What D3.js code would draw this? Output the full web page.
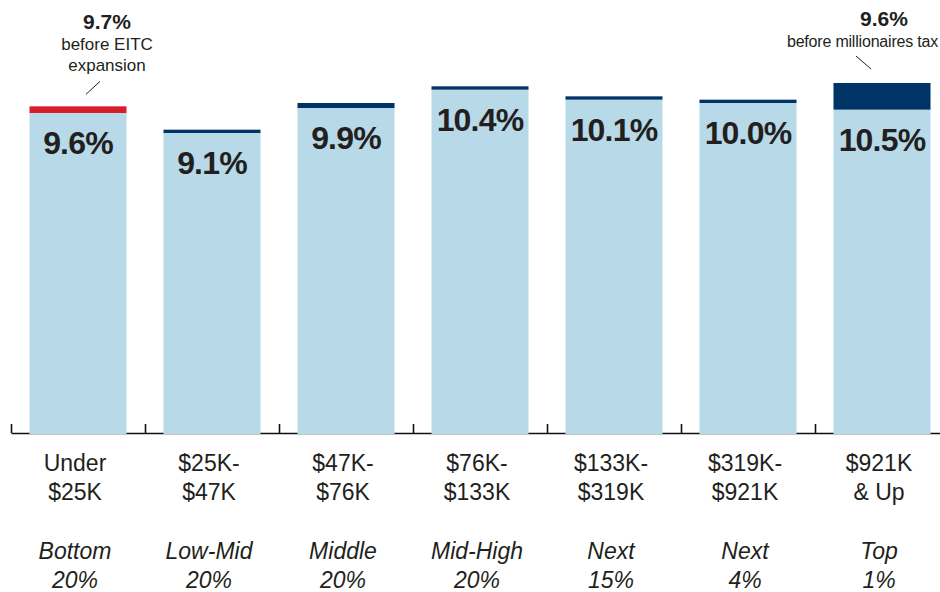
<!DOCTYPE html>
<html>

<head>
	<meta charset="utf-8">
	<script src="https://cdn.jsdelivr.net/npm/d3@7"></script>
	<style>
		body {
			margin: 0;
			background: #fff;
		}

		svg text {
			font-family: "Liberation Sans", Arial, sans-serif;
			fill: #231f20;
		}

		.axis path,
		.axis line {
			stroke: #111;
			stroke-width: 1.6px;
		}
	</style>
</head>

<body>
	<svg></svg>
	<script>
		// data
		var brackets = ["Under|$25K", "$25K-|$47K", "$47K-|$76K", "$76K-|$133K", "$133K-|$319K", "$319K-|$921K", "$921K|& Up"];
		var groups = ["Bottom|20%", "Low-Mid|20%", "Middle|20%", "Mid-High|20%", "Next|15%", "Next|4%", "Top|1%"];
		var rates = [9.6, 9.1, 9.9, 10.4, 10.1, 10.0, 10.5];
		var capBottom = [9.6, 9.0, 9.75, 10.3, 10.0, 9.9, 9.7];
		var capTop = [9.8, 9.1, 9.9, 10.4, 10.1, 10.0, 10.5];
		var capColor = ["#d71f2b", "#003466", "#003466", "#003466", "#003466", "#003466", "#003466"];
		var notes = [
			{ i: 0, value: "9.7%", lines: ["before EITC", "expansion"] },
			{ i: 6, value: "9.6%", lines: ["before millionaires tax"] }
		];

		var width = 940;
		var height = 592;
		var base = 433;

		var svg = d3.select('svg')
			.attr("width", width)
			.attr("height", height)

		var x = d3.scaleBand()
			.domain(d3.range(rates.length))
			.range([11, 949])
			.paddingInner(0.276)
			.paddingOuter(0.138)
		var xEdge = d3.scaleLinear()
			.domain([0, rates.length])
			.range([11, 949])
		var y = d3.scaleLinear()
			.domain([0, 10.5])
			.range([base, 83])

		svg.append("g")
			.attr("class", "axis")
			.attr("transform", "translate(0," + base + ")")
			.call(d3.axisBottom(xEdge)
				.tickValues(d3.range(rates.length))
				.tickSize(-9)
				.tickSizeOuter(0)
				.tickFormat(""));

		// light blue body
		svg.selectAll("rect.body")
			.data(rates)
			.enter()
			.append("rect")
			.attr("class", "body")
			.attr("x", (d, i) => x(i))
			.attr("width", x.bandwidth())
			.attr("y", (d, i) => y(capBottom[i]))
			.attr("height", (d, i) => base + 1 - y(capBottom[i]))
			.attr("fill", "#b7d9e8");

		// cap
		svg.selectAll("rect.cap")
			.data(rates)
			.enter()
			.append("rect")
			.attr("class", "cap")
			.attr("x", (d, i) => x(i))
			.attr("width", x.bandwidth())
			.attr("y", (d, i) => y(capTop[i]))
			.attr("height", (d, i) => y(capBottom[i]) - y(capTop[i]))
			.attr("fill", (d, i) => capColor[i]);

		svg.selectAll("text.val")
			.data(rates)
			.enter()
			.append("text")
			.attr("class", "val")
			.attr("x", (d, i) => x(i) + x.bandwidth() / 2)
			.attr("y", (d, i) => y(capBottom[i]) + 41)
			.attr("text-anchor", "middle")
			.attr("font-size", 32)
			.attr("font-weight", "bold")
			.attr("letter-spacing", -0.8)
			.text(d => d.toFixed(1) + "%");

		// category labels
		brackets.forEach((b, i) => {
			var cx = x(i) + x.bandwidth() / 2 - 3;
			b.split("|").forEach((t, k) => {
				svg.append("text")
					.attr("x", cx)
					.attr("y", 471 + k * 29)
					.attr("text-anchor", "middle")
					.attr("font-size", 23)
					.attr("fill", "#3a3a3a")
					.text(t);
			});
			groups[i].split("|").forEach((t, k) => {
				svg.append("text")
					.attr("x", cx)
					.attr("y", 559 + k * 29)
					.attr("text-anchor", "middle")
					.attr("font-size", 23)
					.attr("font-style", "italic")
					.attr("fill", "#3a3a3a")
					.text(t);
			});
		});

		// annotations
		notes.forEach(n => {
			var cx = x(n.i) + x.bandwidth() / 2;
			var g = svg.append("g");
			var top = n.lines.length > 1 ? 29 : 26;
			var tx = n.i === 0 ? cx + 29 : cx + 2;
			g.append("text")
				.attr("x", tx)
				.attr("y", top)
				.attr("text-anchor", "middle")
				.attr("font-size", 21)
				.attr("font-weight", "bold")
				.text(n.value);
			n.lines.forEach((t, k) => {
				g.append("text")
					.attr("x", n.i === 0 ? tx : 938)
					.attr("y", top + 21 + k * 21)
					.attr("text-anchor", n.i === 0 ? "middle" : "end")
					.attr("font-size", n.i === 0 ? 17 : 16)
					.attr("letter-spacing", n.i === 0 ? 0 : -0.2)
					.text(t);
			});
			var ly = y(capTop[n.i]);
			if (n.i === 0) {
				g.append("line")
					.attr("x1", cx + 8).attr("y1", ly - 12)
					.attr("x2", cx + 22).attr("y2", ly - 25)
					.attr("stroke", "#222").attr("stroke-width", 1);
			} else {
				g.append("line")
					.attr("x1", cx - 26).attr("y1", ly - 27)
					.attr("x2", cx - 11).attr("y2", ly - 14)
					.attr("stroke", "#222").attr("stroke-width", 1);
			}
		});
	</script>
</body>

</html>
